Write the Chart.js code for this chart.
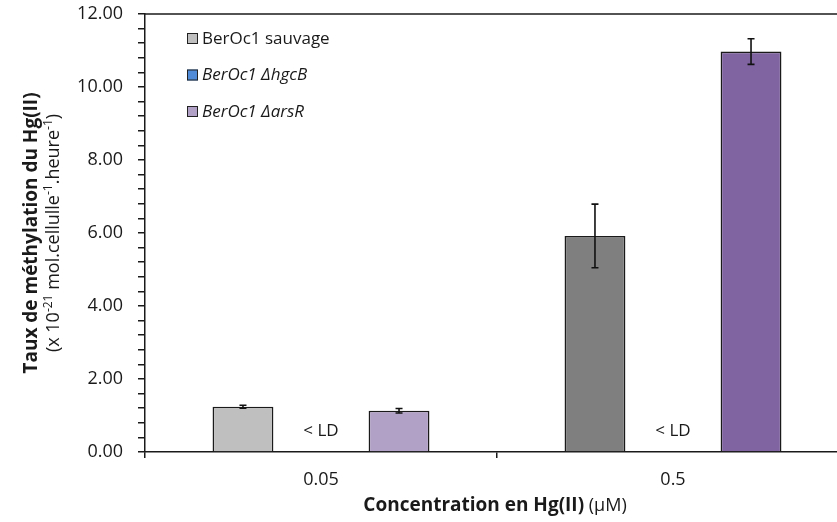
<!DOCTYPE html>
<html>
<head>
<meta charset="utf-8">
<script src="https://cdn.jsdelivr.net/npm/chart.js@4.4.1/dist/chart.umd.min.js"></script>
<style>
  html, body { margin: 0; padding: 0; background: #fff; overflow: hidden; }
  #wrap { width: 860px; height: 522px; }
</style>
</head>
<body>
<div id="wrap"><canvas id="chart" width="860" height="522"></canvas></div>
<script>
// data
const concentrations = ['0.05', '0.5'];
const seriesNames = ['BerOc1 sauvage', 'BerOc1 \u0394hgcB', 'BerOc1 \u0394arsR'];
const sauvage = [1.24, 5.92];
const sauvageErr = [0.04, 0.87];
const hgcB = [0, 0];
const arsR = [1.13, 10.97];
const arsRErr = [0.06, 0.35];
const belowLimit = ['< LD', '< LD'];
const yTicks = [0, 2, 4, 6, 8, 10, 12];

const FONT = "'Open Sans', 'DejaVu Sans', sans-serif";
const INK = '#1a1a1a';

const errors = [sauvageErr, null, arsRErr];

const extras = {
  id: 'extras',
  afterDatasetsDraw(chart) {
    const ctx = chart.ctx;
    const y = chart.scales.y;
    ctx.save();
    // error bars
    ctx.strokeStyle = '#111';
    ctx.lineWidth = 1.6;
    errors.forEach((errs, di) => {
      if (!errs) return;
      const meta = chart.getDatasetMeta(di);
      meta.data.forEach((bar, i) => {
        const v = chart.data.datasets[di].data[i];
        const top = y.getPixelForValue(v + errs[i]);
        const bot = y.getPixelForValue(v - errs[i]);
        ctx.beginPath();
        ctx.moveTo(bar.x, top); ctx.lineTo(bar.x, bot);
        ctx.moveTo(bar.x - 3.5, top); ctx.lineTo(bar.x + 3.5, top);
        ctx.moveTo(bar.x - 3.5, bot); ctx.lineTo(bar.x + 3.5, bot);
        ctx.stroke();
      });
    });
    // "< LD" labels on the hgcB slot
    ctx.fillStyle = INK;
    ctx.font = '17px ' + FONT;
    ctx.textAlign = 'center';
    ctx.textBaseline = 'middle';
    chart.getDatasetMeta(1).data.forEach((bar, i) => {
      ctx.fillText(belowLimit[i], bar.x, y.getPixelForValue(0.58));
    });
    ctx.restore();
  },
  afterDraw(chart) {
    const ctx = chart.ctx;
    const a = chart.chartArea;
    ctx.save();
    // top border of plot area
    ctx.strokeStyle = INK;
    ctx.lineWidth = 1.5;
    ctx.beginPath();
    ctx.moveTo(a.left, a.top); ctx.lineTo(a.right, a.top);
    ctx.stroke();

    // legend
    const colors = ['#BFBFBF', '#4F8BD6', '#B2A1C7'];
    seriesNames.forEach((name, i) => {
      const cy = 39 + i * 36.5;
      ctx.fillStyle = colors[i];
      ctx.fillRect(187, cy - 6, 11, 11);
      ctx.strokeStyle = '#222';
      ctx.lineWidth = 1;
      ctx.strokeRect(187.5, cy - 5.5, 10, 10);
      ctx.fillStyle = INK;
      ctx.font = (i === 0 ? '' : 'italic ') + '17px ' + FONT;
      ctx.textAlign = 'left';
      ctx.textBaseline = 'middle';
      ctx.fillText(name, 202, cy);
    });

    // x axis title
    ctx.textBaseline = 'alphabetic';
    ctx.textAlign = 'left';
    const xb = 'Concentration en Hg(II)';
    const xr = ' (\u00B5M)';
    ctx.font = 'bold 19px ' + FONT;
    const wb = ctx.measureText(xb).width;
    ctx.font = '18px ' + FONT;
    const wr = ctx.measureText(xr).width;
    const x0 = 495 - (wb + wr) / 2;
    ctx.font = 'bold 19px ' + FONT;
    ctx.fillText(xb, x0, 511);
    ctx.font = '18px ' + FONT;
    ctx.fillText(xr, x0 + wb, 511);

    // y axis title, two lines, rotated
    const cy = (a.top + a.bottom) / 2;
    ctx.save();
    ctx.translate(37, cy);
    ctx.rotate(-Math.PI / 2);
    ctx.font = 'bold 19px ' + FONT;
    ctx.textAlign = 'center';
    ctx.fillText('Taux de m\u00E9thylation du Hg(II)', 0, 0);
    ctx.restore();

    const parts = [
      ['(x 10', false], ['-21', true], [' mol.cellulle', false], ['-1', true],
      ['.heure', false], ['-1', true], [')', false]
    ];
    const fontFor = sup => (sup ? '12px ' : '18px ') + FONT;
    let total = 0;
    parts.forEach(p => { ctx.font = fontFor(p[1]); total += ctx.measureText(p[0]).width; });
    ctx.save();
    ctx.translate(59, cy);
    ctx.rotate(-Math.PI / 2);
    ctx.textAlign = 'left';
    let px = -total / 2;
    parts.forEach(p => {
      ctx.font = fontFor(p[1]);
      ctx.fillText(p[0], px, p[1] ? -7 : 0);
      px += ctx.measureText(p[0]).width;
    });
    ctx.restore();
    ctx.restore();
  }
};

new Chart(document.getElementById('chart'), {
  type: 'bar',
  data: {
    labels: concentrations,
    datasets: [
      { label: seriesNames[0], data: sauvage, backgroundColor: ['#BFBFBF', '#7F7F7F'] },
      { label: seriesNames[1], data: hgcB, backgroundColor: '#4F8BD6' },
      { label: seriesNames[2], data: arsR, backgroundColor: ['#B2A1C7', '#8064A2'] }
    ]
  },
  options: {
    responsive: false,
    animation: false,
    devicePixelRatio: 1,
    layout: { padding: { left: 0, top: 14, right: 11, bottom: 0 } },
    datasets: {
      bar: {
        categoryPercentage: 0.665,
        barPercentage: 0.78,
        borderColor: '#1a1a1a',
        borderWidth: 1.6,
        borderSkipped: 'start'
      }
    },
    plugins: {
      legend: { display: false },
      tooltip: { enabled: false }
    },
    scales: {
      x: {
        offset: true,
        grid: {
          offset: true,
          drawOnChartArea: false,
          drawTicks: true,
          tickLength: 6,
          color: INK,
          lineWidth: 1.5
        },
        border: { color: INK, width: 1.5 },
        ticks: { color: INK, font: { family: FONT, size: 18 }, padding: 11 },
        afterFit(scale) { scale.height = 70; scale.paddingLeft = 0; scale.paddingRight = 0; }
      },
      y: {
        min: 0,
        max: 12,
        grid: {
          drawOnChartArea: false,
          drawTicks: true,
          tickLength: 7,
          color: INK,
          lineWidth: 1.5
        },
        border: { color: INK, width: 1.5 },
        ticks: {
          stepSize: 0.4,
          autoSkip: false,
          color: INK,
          padding: 15,
          font: { family: FONT, size: 18 },
          callback(v) {
            const major = yTicks.find(t => Math.abs(t - v) < 1e-6);
            return major === undefined ? '' : major.toFixed(2);
          }
        },
        afterFit(scale) { scale.width = 145; scale.paddingTop = 0; scale.paddingBottom = 0; }
      }
    }
  },
  plugins: [extras]
});
</script>
</body>
</html>
